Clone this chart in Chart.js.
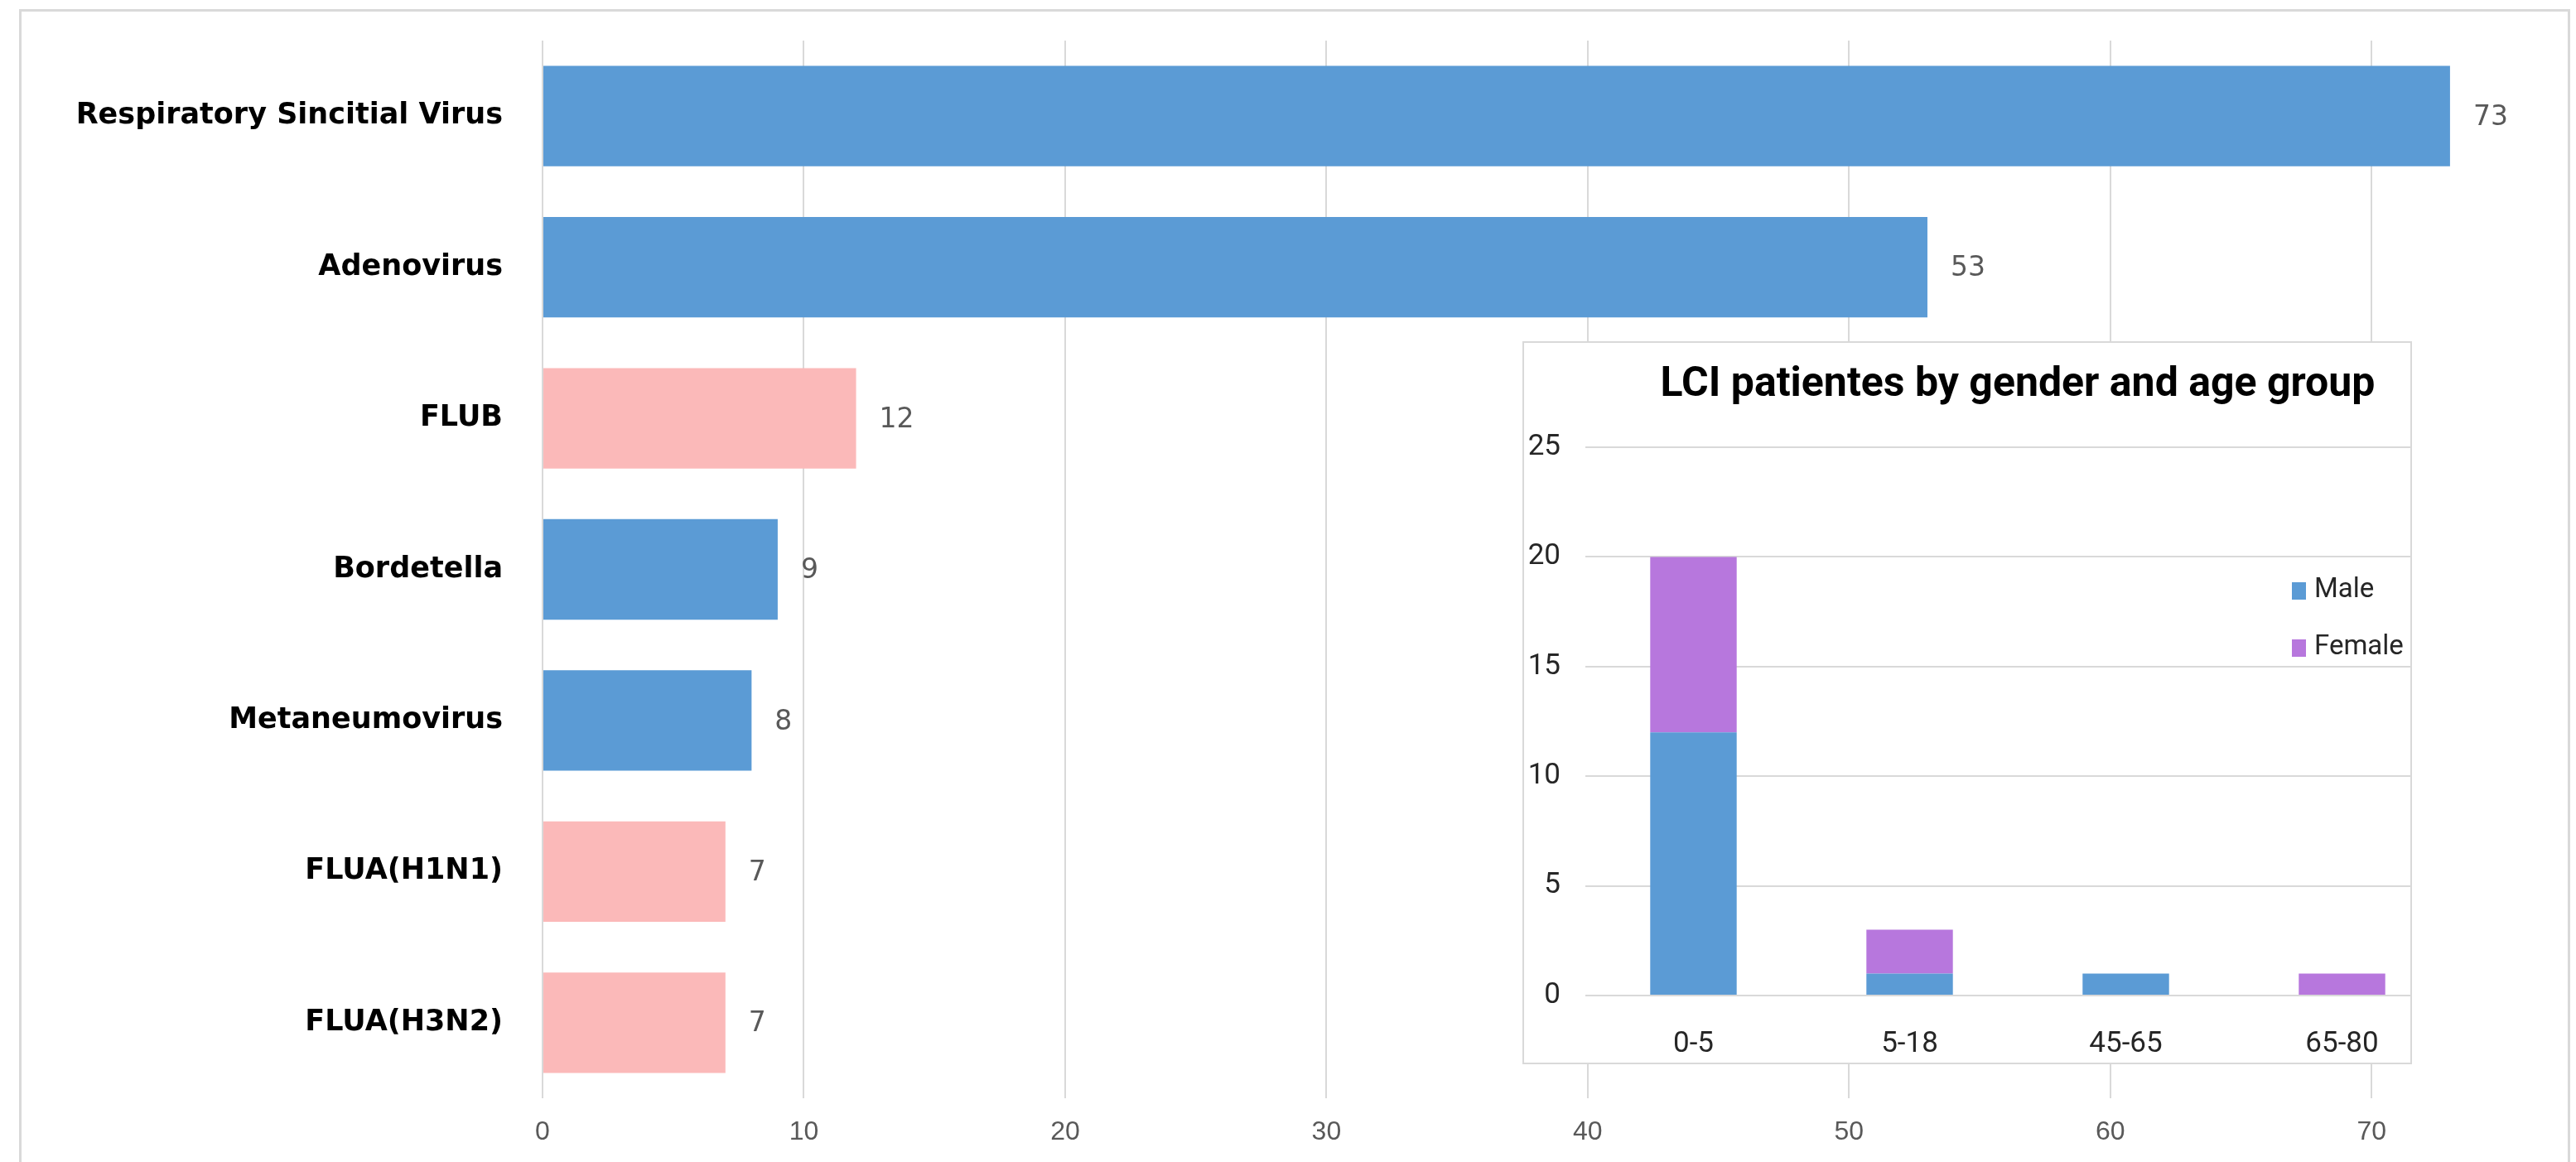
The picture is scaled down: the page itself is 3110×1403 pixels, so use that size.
<!DOCTYPE html>
<html>
<head>
<meta charset="utf-8">
<script src="https://cdn.jsdelivr.net/npm/chart.js@4.4.0/dist/chart.umd.min.js"></script>
<style>
  html, body { margin: 0; padding: 0; background: #fff; overflow: hidden; }
  #frame { position: absolute; left: 23px; top: 11px; width: 3080px; height: 1440px; border: 3px solid #D9D9D9; box-sizing: border-box; }
  #main { position: absolute; left: 0; top: 0; }
  #insetBox { position: absolute; left: 1838px; top: 412px; width: 1074px; height: 873px; border: 2px solid #D9D9D9; box-sizing: border-box; background: #fff; overflow: hidden; }
  #inset { position: absolute; left: 0; top: 0; }
</style>
</head>
<body>
<div id="frame"></div>
<canvas id="main" width="3110" height="1403"></canvas>
<div id="insetBox"><canvas id="inset" width="1268" height="869"></canvas></div>

<script>
// main chart: virus counts
const viruses = ["Respiratory Sincitial Virus", "Adenovirus", "FLUB", "Bordetella", "Metaneumovirus", "FLUA(H1N1)", "FLUA(H3N2)"];
const counts = [73, 53, 12, 9, 8, 7, 7];
const barColors = ["#5B9BD5", "#5B9BD5", "#FBB9B9", "#5B9BD5", "#5B9BD5", "#FBB9B9", "#FBB9B9"];
const countTicks = [0, 10, 20, 30, 40, 50, 60, 70];

// inset chart: patients by gender and age group
const ageGroups = ["0-5", "5-18", "45-65", "65-80"];
const male = [12, 1, 1, 0];
const female = [8, 2, 0, 1];

const gridColor = "#D9D9D9";
const narrow = "'Roboto', sans-serif";

const valueLabels = {
  id: "valueLabels",
  afterDatasetsDraw(chart) {
    const ctx = chart.ctx;
    const meta = chart.getDatasetMeta(0);
    ctx.save();
    ctx.font = "33px 'DejaVu Sans'";
    ctx.fillStyle = "#595959";
    ctx.textBaseline = "middle";
    meta.data.forEach((bar, i) => {
      ctx.fillText(String(counts[i]), bar.x + 28, bar.y + 2);
    });
    ctx.restore();
  }
};

const config = {
  type: "bar",
  data: {
    labels: viruses,
    datasets: [
      {
        data: counts,
        backgroundColor: barColors,
        categoryPercentage: 0.665,
        barPercentage: 1,
      },
    ],
  },
  options: {
    indexAxis: "y",
    responsive: false,
    animation: false,
    layout: { padding: { top: 49, right: 89, bottom: 17, left: 0 } },
    plugins: { legend: { display: false }, tooltip: { enabled: false } },
    scales: {
      x: {
        min: 0,
        max: 75,
        afterBuildTicks: (scale) => {
          scale.ticks = countTicks.map((v) => ({ value: v }));
        },
        afterFit: (scale) => { scale.height = 60; },
        grid: { color: gridColor, lineWidth: 2, drawTicks: false },
        border: { display: false },
        ticks: { color: "#595959", padding: 22, font: { family: "'Liberation Sans'", size: 32 } },
      },
      y: {
        afterFit: (scale) => { scale.width = 655; },
        grid: { display: false, drawTicks: true, tickLength: 48 },
        border: { display: false },
        ticks: { color: "#000", padding: 0, font: { family: "'DejaVu Sans'", size: 35, weight: "bold" } },
      },
    },
  },
  plugins: [valueLabels],
};

const ctx = document.getElementById("main").getContext("2d");
const mainChart = new Chart(ctx, config);


// inset chart

const insetLegend = {
  id: "insetLegend",
  afterDraw(chart) {
    const ctx = chart.ctx;
    const area = chart.chartArea;
    ctx.save();
    ctx.font = "33px " + narrow;
    ctx.textBaseline = "middle";
    chart.data.datasets.forEach((ds, i) => {
      const y = area.top + 173 + i * 69;
      ctx.fillStyle = ds.backgroundColor;
      ctx.fillRect(area.right - 191, y - 10, 17, 21);
      ctx.fillStyle = "#262626";
      ctx.fillText(ds.label, area.right - 164, y);
    });
    ctx.restore();
  }
};

const config2 = {
  type: "bar",
  data: {
    labels: ageGroups,
    datasets: [
      { label: "Male", data: male, backgroundColor: "#5B9BD5", categoryPercentage: 0.4, barPercentage: 1 },
      { label: "Female", data: female, backgroundColor: "#B777DD", categoryPercentage: 0.4, barPercentage: 1 },
    ],
  },
  options: {
    responsive: false,
    animation: false,
    layout: { padding: { top: 0, right: 150, bottom: 9, left: 0 } },
    plugins: {
      legend: { display: false },
      tooltip: { enabled: false },
      title: {
        display: true,
        fullSize: false,
        text: "LCI patientes by gender and age group",
        color: "#000",
        font: { family: narrow, size: 50, weight: "bold" },
        padding: { top: 21, bottom: 45 },
      },
    },
    scales: {
      x: {
        stacked: true,
        afterFit: (scale) => { scale.height = 72; },
        grid: { display: false },
        border: { display: false },
        ticks: { color: "#262626", padding: 30, font: { family: narrow, size: 35 } },
      },
      y: {
        stacked: true,
        min: 0,
        max: 25,
        afterFit: (scale) => { scale.width = 74; },
        grid: { color: gridColor, lineWidth: 2, drawTicks: false },
        border: { display: false },
        ticks: { stepSize: 5, color: "#262626", padding: 30, font: { family: narrow, size: 35 } },
      },
    },
  },
  plugins: [insetLegend],
};

const ctx2 = document.getElementById("inset").getContext("2d");
const insetChart = new Chart(ctx2, config2);
</script>
</body>
</html>
